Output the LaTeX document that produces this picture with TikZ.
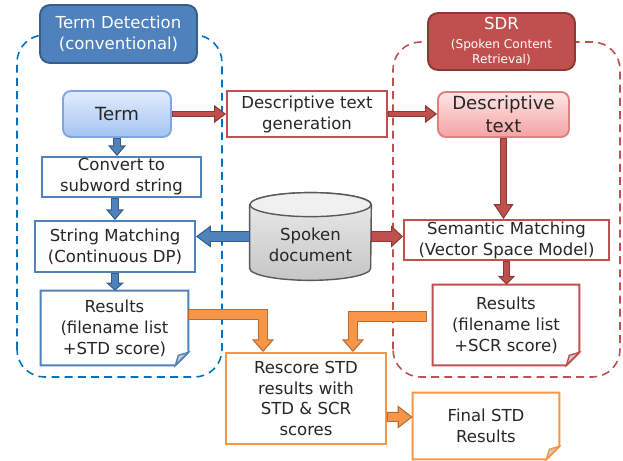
\documentclass[tikz,border=0pt]{standalone}
\usepackage{fontspec}
\setmainfont{DejaVu Sans}
\usetikzlibrary{arrows.meta,calc,backgrounds}

\definecolor{tdblue}{HTML}{4F81BD}
\definecolor{tdbluedark}{HTML}{385D8A}
\definecolor{dashblue}{HTML}{0070C0}
\definecolor{sdrred}{HTML}{C0504D}
\definecolor{sdrreddark}{HTML}{8C3836}
\definecolor{resorange}{HTML}{F79646}
\definecolor{resorangedark}{HTML}{B66D31}
\definecolor{termtop}{HTML}{E1EDFD}
\definecolor{termbot}{HTML}{A4C3F0}
\definecolor{termline}{HTML}{7EA6E0}
\definecolor{desctop}{HTML}{FFE6E6}
\definecolor{descbot}{HTML}{F4A2A2}
\definecolor{descline}{HTML}{E07F7F}

% block arrow: fill, border, outer width, inner width, head width, head length, path
\newcommand{\blockarrow}[7]{%
  \draw[draw=#2,line width=#3,line join=miter,-{Triangle[width=#5,length=#6,fill=#1,line width=0.6pt]}] #7;
  \draw[draw=#1,line width=#4,line join=miter,shorten <=0.6pt,shorten >=#6-1.5pt] #7;
}

\begin{document}
\begin{tikzpicture}[x=1cm,y=1cm,
  every node/.style={font=\fontsize{9.4}{11.9}\selectfont,align=center,inner sep=0pt,text=black!85},
  box/.style={draw=#1,line width=1.1pt,fill=white},
  header/.style={draw=#1,line width=1.1pt,rounded corners=0.2cm,text=white},
  region/.style={draw=#1,line width=0.9pt,dash pattern=on 4.5pt off 3pt,rounded corners=0.55cm}]
\path[use as bounding box] (0,0) rectangle (12.46,9.22);
\draw[region=dashblue] (0.34,1.68) rectangle (4.44,8.52);
\draw[region=sdrred] (7.86,1.68) rectangle (12.40,8.38);

\node[header=tdbluedark,fill=tdblue,minimum width=3.14cm,minimum height=1.16cm] (tdhead) at (2.37,8.54) {Term Detection\\(conventional)};
\node[header=sdrreddark,fill=sdrred,minimum width=2.94cm,minimum height=1.14cm,font=\fontsize{6.9}{9}\selectfont] (sdrhead) at (10.03,8.39) {{\fontsize{9.4}{9}\selectfont SDR}\\[1.5pt](Spoken Content\\Retrieval)};

\node[draw=termline,line width=1.1pt,rounded corners=0.16cm,top color=termtop,bottom color=termbot,minimum width=2.16cm,minimum height=0.92cm,font=\fontsize{10.3}{13}\selectfont] (term) at (2.34,6.94) {Term};
\node[box=sdrred,minimum width=3.2cm,minimum height=0.92cm] (descgen) at (6.14,6.94) {Descriptive text\\generation};
\node[draw=descline,line width=1.1pt,rounded corners=0.16cm,top color=desctop,bottom color=descbot,minimum width=2.62cm,minimum height=0.9cm,font=\fontsize{10.3}{13}\selectfont] (desctext) at (10.07,6.93) {Descriptive\\text};
\node[box=tdblue,minimum width=3.18cm,minimum height=0.8cm] (convert) at (2.43,5.68) {Convert to\\subword string};
\node[box=tdblue,minimum width=3.2cm,minimum height=1.02cm] (strmatch) at (2.30,4.29) {String Matching\\(Continuous DP)};
\node[box=sdrred,minimum width=4.1cm,minimum height=0.8cm] (semmatch) at (10.13,4.42) {Semantic Matching\\(Vector Space Model)};

% spoken document cylinder
\node[minimum width=2.42cm,minimum height=1.26cm] (spoken) at (6.21,4.49) {};
\begin{scope}[on background layer]
\path[draw=gray!70!black,line width=0.8pt,top color=gray!15,bottom color=gray!45] (spoken.north west) -- (spoken.south west) arc[start angle=180,end angle=360,x radius=1.21cm,y radius=0.24cm] -- (spoken.north east) arc[start angle=0,end angle=180,x radius=1.21cm,y radius=0.24cm] -- cycle;
\draw[draw=gray!70!black,line width=0.8pt,fill=gray!12] (spoken.north) ellipse[x radius=1.21cm,y radius=0.24cm];
\end{scope}
\node (spokentxt) at (6.21,4.32) {Spoken\\document};

\node[minimum width=2.94cm,minimum height=1.48cm] (resL) at (2.29,2.66) {Results\\(filename list\\+STD score)};
\node[minimum width=2.92cm,minimum height=1.6cm] (resR) at (10.12,2.72) {Results\\(filename list\\+SCR score)};
\node[box=resorange,minimum width=3.2cm,minimum height=1.82cm] (rescore) at (6.12,1.25) {Rescore STD\\results with\\STD \& SCR\\scores};
\node[minimum width=2.92cm,minimum height=1.32cm] (final) at (9.72,0.70) {Final STD\\Results};

\foreach \doc/\col in {resL/tdblue,resR/sdrred,final/resorange}{
  \draw[line width=1.1pt,draw=\col,line join=miter] (\doc.north west) -- (\doc.north east) -- ($(\doc.south east)+(0,0.26)$) -- ($(\doc.south east)+(-0.26,0)$) -- (\doc.south west) -- cycle;
  \filldraw[fill=gray!40,draw=\col,line width=0.8pt] ($(\doc.south east)+(0,0.26)$) -- ($(\doc.south east)+(-0.2,0.2)$) -- ($(\doc.south east)+(-0.26,0)$) -- cycle;
}

% arrows
\blockarrow{sdrred}{sdrreddark}{3.6pt}{2.4pt}{10.2pt}{6.8pt}{(term.east) -- (descgen.west)}
\blockarrow{sdrred}{sdrreddark}{3.6pt}{2.4pt}{10.2pt}{6.8pt}{(descgen.east) -- (descgen.east -| desctext.west)}
\blockarrow{sdrred}{sdrreddark}{4.5pt}{3.3pt}{11.3pt}{8.5pt}{(desctext.south) -- (desctext.south |- semmatch.north)}
\blockarrow{sdrred}{sdrreddark}{4.5pt}{3.3pt}{10pt}{5pt}{(semmatch.south) -- (semmatch.south |- resR.north)}
\blockarrow{tdblue}{tdbluedark}{4.5pt}{3.3pt}{10pt}{6pt}{(term.south) -- (term.south |- convert.north)}
\blockarrow{tdblue}{tdbluedark}{4.5pt}{3.3pt}{10pt}{6pt}{(strmatch.north |- convert.south) -- (strmatch.north)}
\blockarrow{tdblue}{tdbluedark}{4.5pt}{3.3pt}{10pt}{4.5pt}{(strmatch.south) -- (strmatch.south |- resL.north)}
\blockarrow{tdblue}{tdbluedark}{6.8pt}{5.6pt}{12.5pt}{8.5pt}{(spoken.west) -- (spoken.west -| strmatch.east)}
\blockarrow{sdrred}{sdrreddark}{6.8pt}{5.6pt}{12.5pt}{6.8pt}{(spoken.east) -- (spoken.east -| semmatch.west)}
\blockarrow{resorange}{resorangedark}{6.2pt}{5pt}{12.5pt}{7.2pt}{($(resL.east)+(0,0.27)$) -| ($(rescore.north west)+(0.76,0)$)}
\blockarrow{resorange}{resorangedark}{6.2pt}{5pt}{12.5pt}{7.2pt}{($(resR.west)+(-0.12,0.17)$) -| ($(rescore.north east)+(-0.68,0)$)}
\blockarrow{resorange}{resorangedark}{5.7pt}{4.5pt}{13pt}{8.5pt}{($(rescore.east)+(0,-0.37)$) -- ($(final.west)+(0,0.18)$)}
\end{tikzpicture}
\end{document}
